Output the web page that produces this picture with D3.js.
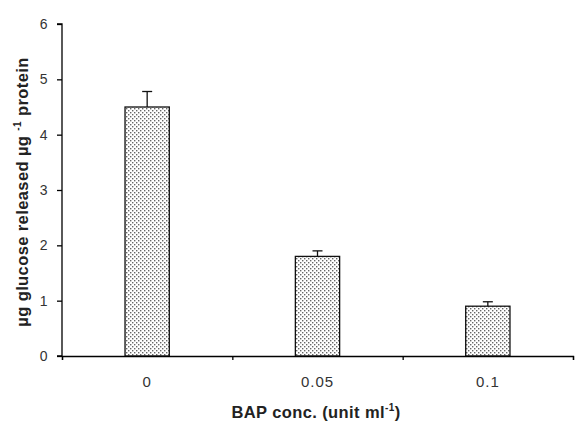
<!DOCTYPE html>
<html>
<head>
<meta charset="utf-8">
<script src="https://cdn.jsdelivr.net/npm/d3@7"></script>
<style>
  body { margin: 0; background: #fff; }
  svg text { font-family: 'Liberation Sans', Arial, sans-serif; }
</style>
</head>
<body>
<div id="chart"></div>
<script>
// data
var categories = ['0', '0.05', '0.1']
var values = [4.5, 1.8, 0.9]
var errors = [0.28, 0.1, 0.08]
var yTicks = [0, 1, 2, 3, 4, 5, 6]

var margin = { top: 24, left: 62, right: 5, bottom: 67 }
var width = 578 - margin.left - margin.right
var height = 423 - margin.top - margin.bottom

var svg = d3.select('#chart')
  .append('svg')
  .attr('width', 578)
  .attr('height', 423)

// stipple pattern for the bars
var defs = svg.append('defs')
var pat = defs.append('pattern')
  .attr('id', 'dots')
  .attr('patternUnits', 'userSpaceOnUse')
  .attr('width', 4)
  .attr('height', 4)
pat.append('rect').attr('width', 4).attr('height', 4).attr('fill', '#fff')
pat.append('rect').attr('x', 0).attr('y', 0).attr('width', 1.4).attr('height', 1.4).attr('fill', '#666')
pat.append('rect').attr('x', 2).attr('y', 2).attr('width', 1.4).attr('height', 1.4).attr('fill', '#666')

var g = svg.append('g')
  .attr('transform', 'translate(' + margin.left + ',' + margin.top + ')')

var xPositionScale = d3.scaleBand()
  .domain(categories)
  .range([0, width])
  .paddingInner(0.74)
  .paddingOuter(0.37)

var xEdges = d3.scaleLinear()
  .domain([0, categories.length])
  .range([0, width])

var yPositionScale = d3.scaleLinear()
  .domain([0, 6])
  .range([height, 0])

// bars
g.selectAll('.bar')
  .data(values)
  .enter()
  .append('rect')
  .attr('class', 'bar')
  .attr('x', (d, i) => xPositionScale(categories[i]))
  .attr('y', d => yPositionScale(d))
  .attr('width', xPositionScale.bandwidth())
  .attr('height', d => height - yPositionScale(d))
  .attr('fill', 'url(#dots)')
  .attr('stroke', '#111')
  .attr('stroke-width', 1.3)

// error bars (upper only)
var eb = g.selectAll('.err')
  .data(values)
  .enter()
  .append('g')
  .attr('class', 'err')
eb.append('line')
  .attr('x1', (d, i) => xPositionScale(categories[i]) + xPositionScale.bandwidth() / 2)
  .attr('x2', (d, i) => xPositionScale(categories[i]) + xPositionScale.bandwidth() / 2)
  .attr('y1', d => yPositionScale(d))
  .attr('y2', (d, i) => yPositionScale(d + errors[i]))
  .attr('stroke', '#111')
  .attr('stroke-width', 1.3)
eb.append('line')
  .attr('x1', (d, i) => xPositionScale(categories[i]) + xPositionScale.bandwidth() / 2 - 5)
  .attr('x2', (d, i) => xPositionScale(categories[i]) + xPositionScale.bandwidth() / 2 + 5)
  .attr('y1', (d, i) => yPositionScale(d + errors[i]))
  .attr('y2', (d, i) => yPositionScale(d + errors[i]))
  .attr('stroke', '#111')
  .attr('stroke-width', 1.3)

// y axis
var yAxis = d3.axisLeft(yPositionScale)
  .tickValues(yTicks)
  .tickSize(5)
  .tickPadding(9)
  .tickFormat(d3.format('d'))
g.append('g')
  .attr('class', 'axis y-axis')
  .call(yAxis)
  .call(s => s.select('.domain').attr('d', 'M-5,0H0V' + height + 'H-5').attr('stroke-width', 1.3))
  .call(s => s.selectAll('text').attr('font-size', 14).attr('letter-spacing', 0.5).attr('fill', '#333'))
  .call(s => s.selectAll('line').attr('stroke-width', 1.3))

// x axis: baseline with tick marks at category edges
var xAxis = d3.axisBottom(xEdges)
  .tickValues(d3.range(categories.length + 1))
  .tickSize(4)
  .tickFormat('')
g.append('g')
  .attr('class', 'axis x-axis')
  .attr('transform', 'translate(0,' + height + ')')
  .call(xAxis)
  .call(s => s.select('.domain').attr('stroke-width', 1.3))
  .call(s => s.selectAll('line').attr('stroke-width', 1.3))

// category labels
g.selectAll('.xlabel')
  .data(categories)
  .enter()
  .append('text')
  .attr('class', 'xlabel')
  .attr('x', d => xPositionScale(d) + xPositionScale.bandwidth() / 2)
  .attr('y', height + 31)
  .attr('text-anchor', 'middle')
  .attr('font-size', 15)
  .attr('letter-spacing', 1)
  .attr('fill', '#333')
  .text(d => d)

// x axis title
var xt = svg.append('text')
  .attr('x', 316)
  .attr('y', 418)
  .attr('text-anchor', 'middle')
  .attr('font-size', 16.5)
  .attr('font-weight', 'bold')
  .attr('letter-spacing', 0.4)
  .attr('fill', '#222')
xt.append('tspan').text('BAP conc. (unit ml')
xt.append('tspan').attr('dy', -7).attr('font-size', 10).text('-1')
xt.append('tspan').attr('dy', 7).text(')')

// y axis title
var yt = svg.append('text')
  .attr('transform', 'translate(28,192) rotate(-90)')
  .attr('text-anchor', 'middle')
  .attr('font-size', 16.5)
  .attr('font-weight', 'bold')
  .attr('letter-spacing', 0.4)
  .attr('fill', '#222')
yt.append('tspan').text('µg glucose released µg ')
yt.append('tspan').attr('dy', -7).attr('font-size', 10).text('-1')
yt.append('tspan').attr('dy', 7).text(' protein')
</script>
</body>
</html>
